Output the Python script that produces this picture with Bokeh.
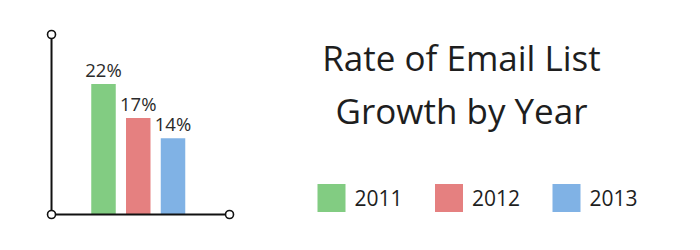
from bokeh.plotting import figure
from bokeh.layouts import row
from bokeh.models import Range1d, ColumnDataSource
from bokeh.core.properties import value
from bokeh.embed import file_html
from bokeh.resources import INLINE

# ---- data ----
years = ["2011", "2012", "2013"]
growth = [22, 17, 14]
labels = ["22%", "17%", "14%"]
colors = ["#82cc82", "#e58080", "#80b2e5"]
title_lines = ["Rate of Email List", "Growth by Year"]

AXIS_BASE = 2.8   # value axis starts here (not at zero)

# ---- left: bar chart ----
left = figure(width=240, height=250, output_backend="svg", toolbar_location=None,
              x_range=Range1d(-2.964, 3.942), y_range=Range1d(-2.494, 34.27),
              min_border=0, outline_line_color=None)
left.axis.visible = False
left.grid.visible = False

idx = list(range(len(years)))
src = ColumnDataSource(dict(x=idx, top=growth, lab=labels, col=colors))
left.vbar(x="x", top="top", bottom=AXIS_BASE, width=0.705, fill_color="col",
          line_color=None, source=src)
left.text(x="x", y="top", text="lab", source=src, text_align="center",
          text_baseline="alphabetic", y_offset=-14.5, text_font=value("Open Sans"),
          text_font_size="18.5px", text_color="#2b2b2b")

ax_x = -1.496
ax_top = 29.27
ax_right = 3.626
left.segment(x0=[ax_x, ax_x], y0=[AXIS_BASE, AXIS_BASE], x1=[ax_x, ax_right],
             y1=[ax_top, AXIS_BASE], line_color="#111111", line_width=2)
left.scatter(x=[ax_x, ax_x, ax_right], y=[ax_top, AXIS_BASE, AXIS_BASE], size=8,
             fill_color="white", line_color="#111111", line_width=1.6)

# ---- right: title + legend ----
right = figure(width=460, height=250, output_backend="svg", toolbar_location=None,
               x_range=Range1d(0, 460), y_range=Range1d(250, 0),
               min_border=0, outline_line_color=None)
right.axis.visible = False
right.grid.visible = False

right.text(x=[221, 221], y=[57, 109.5], text=title_lines, text_align="center",
           text_baseline="alphabetic", text_font=value("Open Sans"),
           text_font_size="35px", text_color="#1e1e1e")

leg_x0, leg_step, leg_y = 91, 117.5, 197.5
sq_x = [leg_x0 + i * leg_step for i in idx]
txt_x = [x + 23 for x in sq_x]
right.scatter(x=sq_x, y=[leg_y] * 3, marker="square", size=28, fill_color=colors,
              line_color=None)
right.text(x=txt_x, y=[197] * 3, text=years, text_align="left",
           text_baseline="alphabetic", text_font=value("Open Sans"),
           text_font_size="21px", text_color="#1e1e1e")

layout = row(left, right, spacing=0)
open("out.html", "w").write(file_html(layout, INLINE))
